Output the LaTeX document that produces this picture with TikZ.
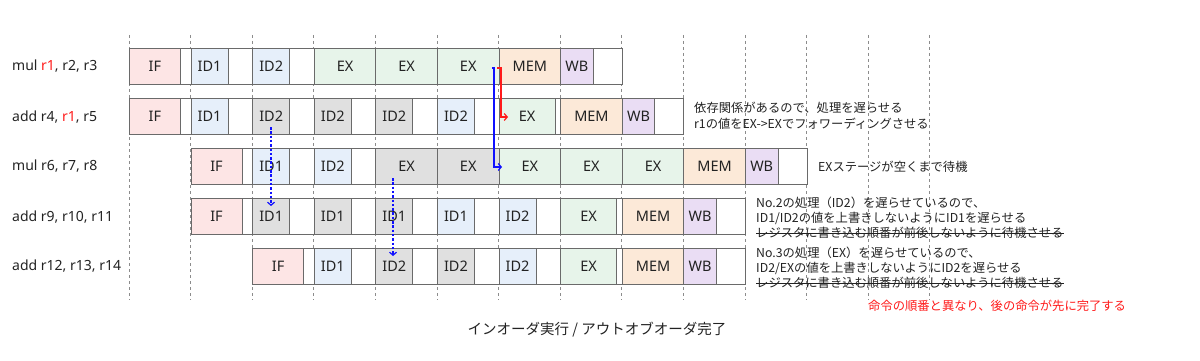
\documentclass[tikz,border=0pt]{standalone}
\usepackage{fontspec}
\setmainfont{Noto Sans}
\newfontfamily\jp{Noto Sans CJK JP}
\usetikzlibrary{arrows.meta}
\definecolor{ifc}{HTML}{FDE5E5}
\definecolor{idc}{HTML}{E6EFFA}
\definecolor{exc}{HTML}{E7F4EA}
\definecolor{memc}{HTML}{FCE9D8}
\definecolor{wbc}{HTML}{EADDF4}
\definecolor{stc}{HTML}{E0E0E0}
\definecolor{edge}{HTML}{6A6A6A}
\definecolor{txt}{HTML}{222222}
\definecolor{hl}{HTML}{FF1A1A}
\definecolor{fb}{HTML}{1010FF}
\definecolor{gridc}{HTML}{8C8C8C}
\newcommand\pcell[6]{\node[cellbox, fill=#5, minimum width=#4pt, anchor=north west] (#1) at ({129+61.6*#3},{48+50*#2}) {#6};}
\newcommand\pbar[4]{\node[barbox, minimum width={61.6*(#4-#3)*1pt}, anchor=north west] (#1) at ({129+61.6*#3},{48+50*#2}) {};}
\tikzset{
  cellbox/.style={draw=edge, line width=0.9pt, minimum height=36pt, inner sep=0pt, text=txt, font=\fontsize{14.5}{16}\selectfont},
  barbox/.style={draw=edge, line width=0.9pt, fill=white, minimum height=36pt, inner sep=0pt},
  gridline/.style={draw=gridc, line width=0.7pt, dash pattern=on 3pt off 3pt},
  rowlabel/.style={anchor=west, inner sep=0pt, text=txt, font=\fontsize{14}{16}\selectfont},
  note/.style={anchor=west, inner sep=0pt, text=txt, font=\jp\fontsize{12.3}{15}\selectfont},
  strike/.style={draw=txt, line width=0.8pt},
  fwd/.style={line width=1.2pt, -{Straight Barb[length=3pt,width=7pt]}},
  dep/.style={draw=fb, line width=1.2pt, dash pattern=on 2.5pt off 1.8pt, -{Straight Barb[length=3pt,width=7pt]}},
}
\begin{document}
\begin{tikzpicture}[x=1pt,y=-1pt]
\useasboundingbox (0,0) rectangle (1200,361);
% grid
\foreach \k in {0,...,13} {
  \draw[gridline] ({129+61.6*\k},35) -- ({129+61.6*\k},300);
}
% row labels
\node[rowlabel] (l0) at (12,66) {mul \textcolor{hl}{r1}, r2, r3};
\node[rowlabel] (l1) at (12,117) {add r4, \textcolor{hl}{r1}, r5};
\node[rowlabel] (l2) at (12,166) {mul r6, r7, r8};
\node[rowlabel] (l3) at (12,217) {add r9, r10, r11};
\node[rowlabel] (l4) at (12,266) {add r12, r13, r14};
% row 0
\pbar{b0}{0}{0}{8}
\pcell{c00}{0}{0}{51}{ifc}{IF}
\pcell{c01}{0}{1}{37}{idc}{ID1}
\pcell{c02}{0}{2}{37}{idc}{ID2}
\pcell{c03}{0}{3}{61.6}{exc}{EX}
\pcell{c04}{0}{4}{61.6}{exc}{EX}
\pcell{c05}{0}{5}{61.6}{exc}{EX}
\pcell{c06}{0}{6}{61.6}{memc}{MEM}
\pcell{c07}{0}{7}{32.5}{wbc}{WB}
% row 1
\pbar{b1}{1}{0}{9}
\pcell{c10}{1}{0}{51}{ifc}{IF}
\pcell{c11}{1}{1}{37}{idc}{ID1}
\pcell{c12}{1}{2}{37}{stc}{ID2}
\pcell{c13}{1}{3}{37}{stc}{ID2}
\pcell{c14}{1}{4}{37}{stc}{ID2}
\pcell{c15}{1}{5}{37}{idc}{ID2}
\pcell{c16}{1}{6}{56}{exc}{EX}
\pcell{c17}{1}{7}{61.6}{memc}{MEM}
\pcell{c18}{1}{8}{32.5}{wbc}{WB}
% row 2
\pbar{b2}{2}{1}{11}
\pcell{c21}{2}{1}{51}{ifc}{IF}
\pcell{c22}{2}{2}{37}{idc}{ID1}
\pcell{c23}{2}{3}{37}{idc}{ID2}
\pcell{c24}{2}{4}{61.6}{stc}{EX}
\pcell{c25}{2}{5}{61.6}{stc}{EX}
\pcell{c26}{2}{6}{61.6}{exc}{EX}
\pcell{c27}{2}{7}{61.6}{exc}{EX}
\pcell{c28}{2}{8}{61.6}{exc}{EX}
\pcell{c29}{2}{9}{61.6}{memc}{MEM}
\pcell{c2a}{2}{10}{32.5}{wbc}{WB}
% row 3
\pbar{b3}{3}{1}{10}
\pcell{c31}{3}{1}{51}{ifc}{IF}
\pcell{c32}{3}{2}{37}{stc}{ID1}
\pcell{c33}{3}{3}{37}{stc}{ID1}
\pcell{c34}{3}{4}{37}{stc}{ID1}
\pcell{c35}{3}{5}{37}{idc}{ID1}
\pcell{c36}{3}{6}{37}{idc}{ID2}
\pcell{c37}{3}{7}{56}{exc}{EX}
\pcell{c38}{3}{8}{61.6}{memc}{MEM}
\pcell{c39}{3}{9}{32.5}{wbc}{WB}
% row 4
\pbar{b4}{4}{2}{10}
\pcell{c42}{4}{2}{51}{ifc}{IF}
\pcell{c43}{4}{3}{37}{idc}{ID1}
\pcell{c44}{4}{4}{37}{stc}{ID2}
\pcell{c45}{4}{5}{37}{stc}{ID2}
\pcell{c46}{4}{6}{37}{idc}{ID2}
\pcell{c47}{4}{7}{56}{exc}{EX}
\pcell{c48}{4}{8}{61.6}{memc}{MEM}
\pcell{c49}{4}{9}{32.5}{wbc}{WB}
% forwarding arrows
\coordinate (rs) at (497,68);
\coordinate (re) at (508,117);
\coordinate (bs) at (492,68);
\coordinate (be) at (502,167);
\draw[fwd, draw=hl] (rs) -- ++(4,0) |- (re);
\draw[fwd, draw=fb] (bs) -- ++(2,0) |- (be);
% dependency arrows
\coordinate (d1s) at (271,127);
\coordinate (d1e) at (271,206);
\coordinate (d2s) at (393,178);
\coordinate (d2e) at (393,256);
\draw[dep] (d1s) -- (d1e);
\draw[dep] (d2s) -- (d2e);
% notes
\node[note] (n1a) at (694,108) {依存関係があるので、処理を遅らせる};
\node[note] (n1b) at (694,124) {r1の値をEX->EXでフォワーディングさせる};
\node[note] (n2) at (818,167) {EXステージが空くまで待機};
\node[note] (n3a) at (756,203) {No.2の処理（ID2）を遅らせているので、};
\node[note] (n3b) at (756,218) {ID1/ID2の値を上書きしないようにID1を遅らせる};
\node[note] (n3c) at (756,233) {レジスタに書き込む順番が前後しないように待機させる};
\draw[strike] (n3c.west) -- (n3c.east);
\node[note] (n4a) at (756,253) {No.3の処理（EX）を遅らせているので、};
\node[note] (n4b) at (756,268) {ID2/EXの値を上書きしないようにID2を遅らせる};
\node[note] (n4c) at (756,283) {レジスタに書き込む順番が前後しないように待機させる};
\draw[strike] (n4c.west) -- (n4c.east);
\node[note, text=hl] (n5) at (868,306) {命令の順番と異なり、後の命令が先に完了する};
\node[inner sep=0pt, text=txt, font=\jp\fontsize{14.5}{16}\selectfont] (title) at (597,330) {インオーダ実行 / アウトオブオーダ完了};
\end{tikzpicture}
\end{document}
